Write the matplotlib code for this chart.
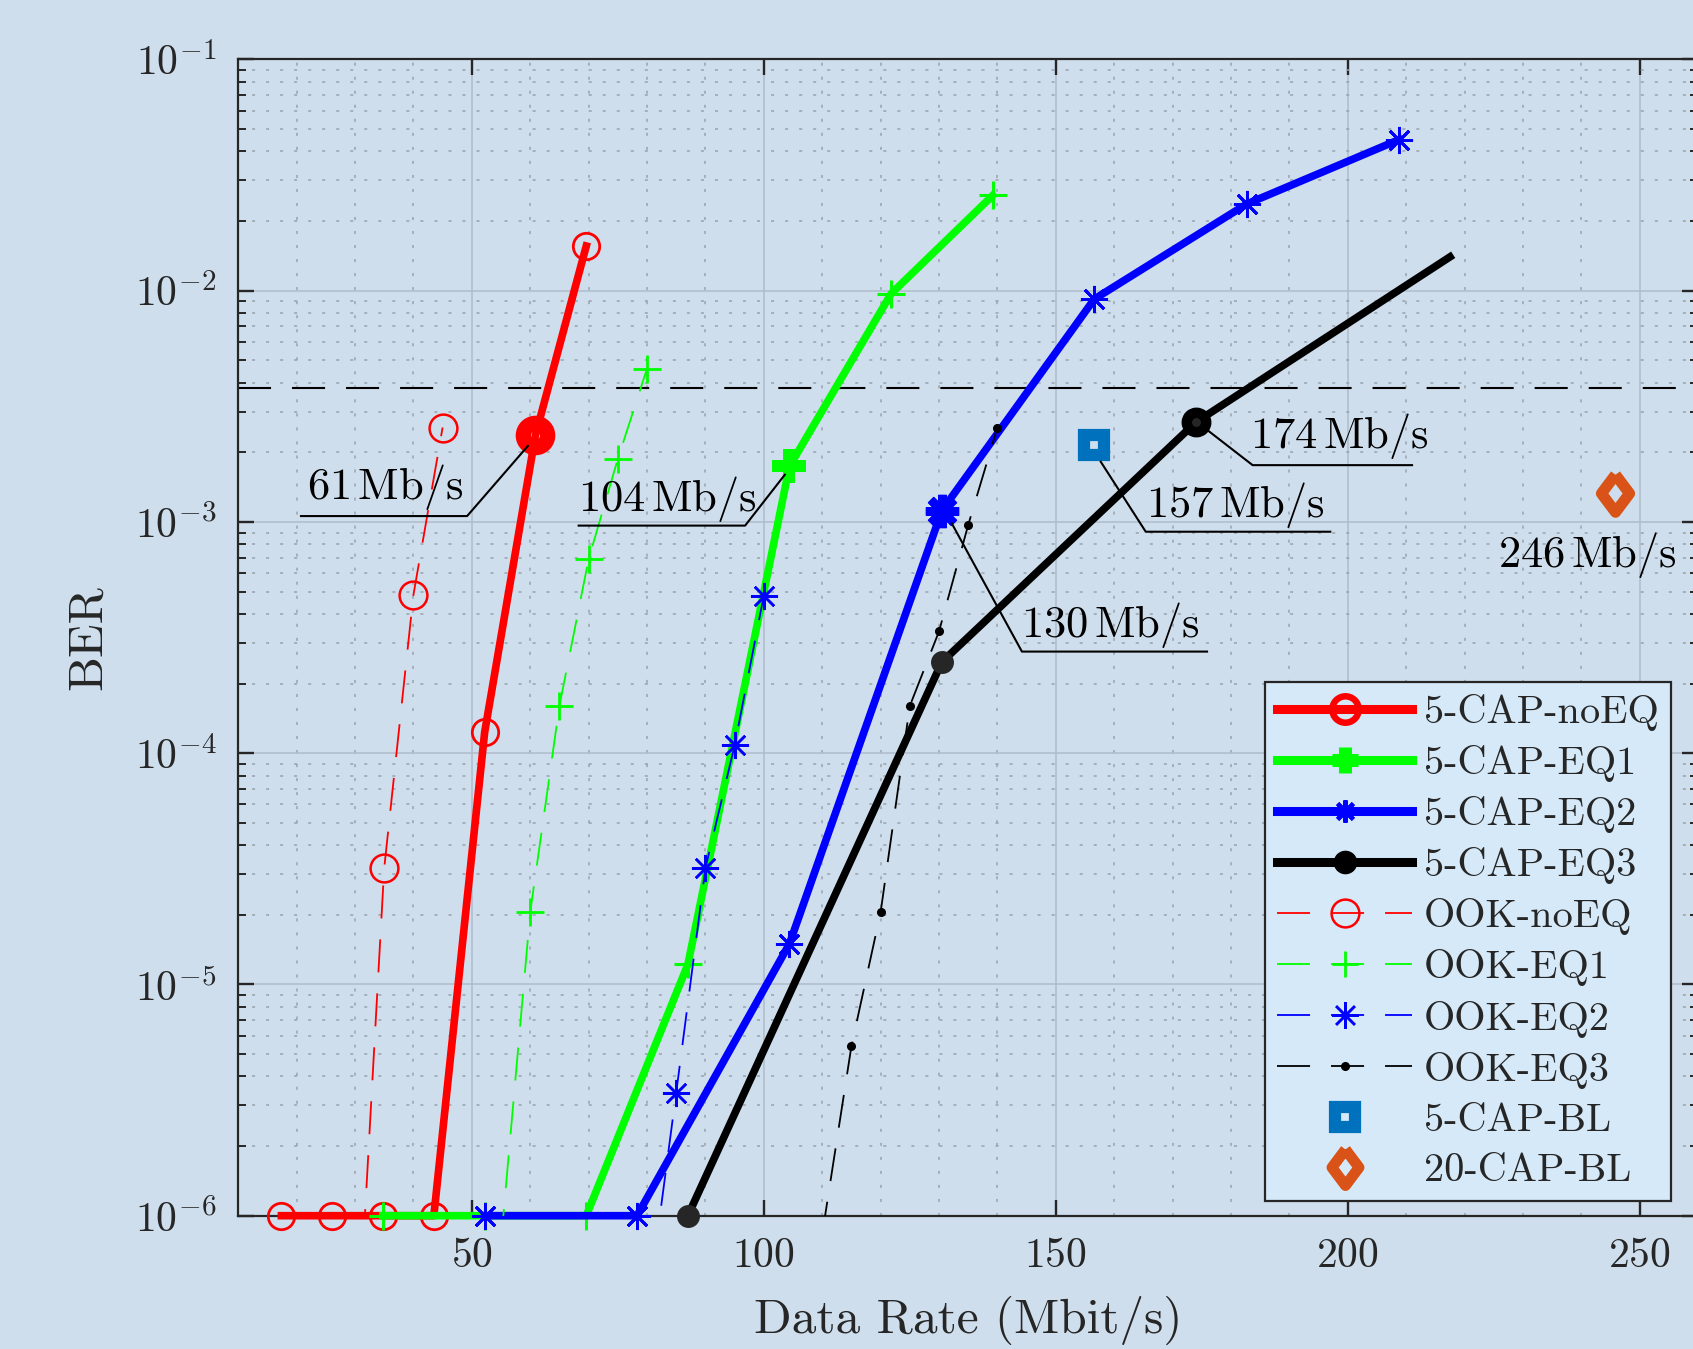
import math
import matplotlib
matplotlib.use('Agg')
import matplotlib.pyplot as plt
from matplotlib.ticker import FixedLocator, MultipleLocator, LogLocator, FuncFormatter, NullFormatter
from matplotlib.lines import Line2D

plt.rcParams['font.family'] = ['cmr10', 'DejaVu Serif']
plt.rcParams['mathtext.fontset'] = 'cm'
plt.rcParams['axes.formatter.use_mathtext'] = True
plt.rcParams['lines.scale_dashes'] = False

# ---------------- data ----------------
cap_noeq_x = [17.4, 26.1, 34.8, 43.5, 52.2, 60.9, 69.6]
cap_noeq_y = [1e-6, 1e-6, 1e-6, 1e-6, 1.23e-4, 2.37e-3, 1.56e-2]

cap_eq1_x = [34.8, 52.2, 69.6, 87.0, 104.4, 121.8, 139.2]
cap_eq1_y = [1e-6, 1e-6, 1e-6, 1.22e-5, 1.74e-3, 9.7e-3, 2.58e-2]

cap_eq2_x = [52.2, 78.3, 104.4, 130.5, 156.6, 182.7, 208.8]
cap_eq2_y = [1e-6, 1e-6, 1.5e-5, 1.12e-3, 9.2e-3, 2.37e-2, 4.5e-2]

cap_eq3_x = [87.0, 130.5, 174.0, 217.5]
cap_eq3_y = [1e-6, 2.48e-4, 2.7e-3, 1.4e-2]

ook_noeq_x = [30, 35, 40, 45]
ook_noeq_y = [1.7e-7, 3.18e-5, 4.83e-4, 2.56e-3]

ook_eq1_x = [55, 60, 65, 70, 75, 80]
ook_eq1_y = [7.7e-7, 2.05e-5, 1.6e-4, 6.9e-4, 1.87e-3, 4.6e-3]

ook_eq2_x = [80, 85, 90, 95, 100]
ook_eq2_y = [3.8e-7, 3.4e-6, 3.18e-5, 1.08e-4, 4.8e-4]

ook_eq3_x = [110, 115, 120, 125, 130, 135, 140]
ook_eq3_y = [8.3e-7, 5.4e-6, 2.05e-5, 1.6e-4, 3.36e-4, 9.7e-4, 2.56e-3]

bl5_x, bl5_y = [156.6], [2.15e-3]
bl20_x, bl20_y = [245.7], [1.34e-3]

fec_limit = 3.8e-3

legend_labels = ['5-CAP-noEQ', '5-CAP-EQ1', '5-CAP-EQ2', '5-CAP-EQ3',
                 'OOK-noEQ', 'OOK-EQ1', 'OOK-EQ2', 'OOK-EQ3',
                 '5-CAP-BL', '20-CAP-BL']
x_ticks = [50, 100, 150, 200, 250]
y_ticks = [1e-6, 1e-5, 1e-4, 1e-3, 1e-2, 1e-1]

# annotations: label, line start, corner, end of underline, text anchor (left, baseline)
annots = [
    ('61', (59.6, 2.13e-3), (49.2, 1.06e-3), (20.75, 1.06e-3), (21.7, 1.26e-3)),
    ('104', (103.6, 1.6e-3), (96.8, 9.64e-4), (68.3, 9.64e-4), (68.2, 1.11e-3)),
    ('130', (132.2, 9.84e-4), (144.2, 2.75e-4), (175.9, 2.75e-4), (144.0, 3.19e-4)),
    ('157', (157.7, 1.82e-3), (165.4, 9.07e-4), (197.0, 9.07e-4), (165.4, 1.05e-3)),
    ('174', (176.0, 2.49e-3), (183.7, 1.76e-3), (211.0, 1.76e-3), (183.2, 2.08e-3)),
]
label_246 = ('246', (241.1, 6.4e-4))

# ---------------- style ----------------
BG = '#cfdeed'
LEG_BG = '#d6e9f8'
DARK = '#262626'
BLUE_BL = '#0072BD'
ORANGE_BL = '#D95319'
DASH = (23.8, 15.1)
THICK = 5.5
THIN = 1.3
diamond = [(0, 1), (0.75, 0), (0, -1), (-0.75, 0), (0, 1)]
star8 = (8, 2, 0)

fig = plt.figure(figsize=(16.93, 13.49), dpi=100, facecolor=BG)
ax = fig.add_axes([238.2 / 1693, (1349 - 1215.7) / 1349, 1460 / 1693, 1156.3 / 1349])
ax.set_facecolor(BG)
ax.set_yscale('log')
ax.set_xlim(10, 260)
ax.set_ylim(1e-6, 1e-1)

ax.xaxis.set_major_locator(FixedLocator(x_ticks))
ax.xaxis.set_minor_locator(MultipleLocator(10))
ax.yaxis.set_major_locator(FixedLocator(y_ticks))
ax.yaxis.set_minor_locator(LogLocator(base=10, subs=range(2, 10)))
ax.yaxis.set_minor_formatter(NullFormatter())
ax.yaxis.set_major_formatter(FuncFormatter(lambda v, p: r'$10^{%d}$' % round(math.log10(v))))

ax.set_axisbelow(True)
ax.grid(which='major', color='#aebccb', lw=1.1, ls='-')
ax.grid(which='minor', color='#98a2ad', lw=1.1, ls=(0, (2.2, 7.9)))

ax.tick_params(which='both', direction='in', top=True, right=True, color=DARK,
               labelcolor=DARK, labelsize=30, pad=15.5)
ax.tick_params(which='major', length=11.5, width=1.7)
ax.tick_params(which='minor', length=5.8, width=1.4)
ax.tick_params(axis='x', which='minor', length=0)
for s in ax.spines.values():
    s.set_color(DARK)
    s.set_linewidth(1.6)

# FEC limit
ax.axhline(fec_limit, color='k', lw=1.5, dashes=DASH, zorder=2)

# 5-CAP curves (thick)
ax.plot(cap_noeq_x, cap_noeq_y, color='r', lw=THICK, marker='o', ms=19, mfc='none',
        mew=2, clip_on=False, zorder=3)
ax.plot(cap_eq1_x, cap_eq1_y, color='#00ff00', lw=THICK, marker='+', ms=20,
        mew=2.2, clip_on=False, zorder=3)
ax.plot(cap_eq2_x, cap_eq2_y, color='b', lw=THICK, marker=star8, ms=19.5,
        mew=2, clip_on=False, zorder=3)
ax.plot(cap_eq3_x, cap_eq3_y, color='k', lw=THICK, marker='o', ms=15.5,
        mfc=DARK, mec=DARK, markevery=[0, 1, 2], clip_on=False, zorder=3)

# OOK curves (thin dashed)
ax.plot(ook_noeq_x, ook_noeq_y, color='r', lw=THIN, dashes=DASH, marker='o', ms=20,
        mfc='none', mew=1.8, zorder=4)
ax.plot(ook_eq1_x, ook_eq1_y, color='#00ff00', lw=THIN, dashes=DASH, marker='+', ms=20,
        mew=2.0, zorder=4)
ax.plot(ook_eq2_x, ook_eq2_y, color='b', lw=THIN, dashes=DASH, marker=star8, ms=19.5,
        mew=1.8, zorder=4)
ax.plot(ook_eq3_x, ook_eq3_y, color='k', lw=THIN, dashes=DASH, marker='o', ms=5.5,
        zorder=4)

# baselines
ax.plot(bl5_x, bl5_y, ls='none', marker='s', ms=14.2, mfc='none', mec=BLUE_BL, mew=8.8,
        zorder=5)
ax.plot(bl20_x, bl20_y, ls='none', marker=diamond, ms=27, mfc='none', mec=ORANGE_BL,
        mew=8, zorder=5)

# highlighted operating points
ax.plot(cap_noeq_x[5], cap_noeq_y[5], marker='o', ms=17.5, mfc='none', mec='r', mew=11, zorder=6)
ax.plot(cap_eq1_x[4], cap_eq1_y[4], marker='+', ms=24, mec='#00ff00', mew=8.6, zorder=6)
ax.plot(cap_eq2_x[3], cap_eq2_y[3], marker=star8, ms=24, mec='b', mew=6, zorder=6)
ax.plot(cap_eq3_x[2], cap_eq3_y[2], marker='o', ms=14, mfc='none', mec='k', mew=7.5, zorder=6)

# annotations
for lab, p0, p1, p2, pt in annots:
    ax.plot([p0[0], p1[0], p2[0]], [p0[1], p1[1], p2[1]], color='k', lw=1.5, zorder=7)
    ax.text(pt[0], pt[1], r'$%s\,\mathrm{Mb/s}$' % lab, fontsize=32, ha='left',
            va='baseline', color='k', zorder=7)
ax.text(label_246[1][0], label_246[1][1], r'$%s\,\mathrm{Mb/s}$' % label_246[0], fontsize=32,
        ha='center', va='baseline', color='k', zorder=7)

# labels
ax.set_xlabel('Data Rate (Mbit/s)', fontsize=35.5, color=DARK)
ax.set_ylabel('BER', fontsize=35.5, color=DARK)
ax.xaxis.set_label_coords(0.5, -0.069)
ax.yaxis.set_label_coords(-0.087, 0.5)

# legend (proxies)
handles = [
    Line2D([], [], color='r', lw=6.5, marker='o', ms=19, mfc='none', mew=4.7),
    Line2D([], [], color='#00ff00', lw=6.5, marker='+', ms=19.4, mew=9.4),
    Line2D([], [], color='b', lw=6.5, marker=star8, ms=16, mew=3),
    Line2D([], [], color='k', lw=6.5, marker='o', ms=16),
    Line2D([], [], color='r', lw=THIN, dashes=DASH, marker='o', ms=20, mfc='none', mew=1.8),
    Line2D([], [], color='#00ff00', lw=THIN, dashes=DASH, marker='+', ms=19, mew=2.0),
    Line2D([], [], color='b', lw=THIN, dashes=DASH, marker=star8, ms=19, mew=1.8),
    Line2D([], [], color='k', lw=THIN, dashes=DASH, marker='o', ms=5.5),
    Line2D([], [], ls='none', marker='s', ms=14.2, mfc='none', mec=BLUE_BL, mew=8.8),
    Line2D([], [], ls='none', marker=diamond, ms=26, mfc='none', mec=ORANGE_BL, mew=7.8),
]
leg = ax.legend(handles, legend_labels, loc='upper left', bbox_to_anchor=(0.7033, 0.4616),
                borderaxespad=0, fontsize=29, handlelength=3.35, handletextpad=0.3,
                borderpad=0.3, labelspacing=0.35, numpoints=1, fancybox=False,
                framealpha=1, facecolor=LEG_BG, edgecolor=DARK)
leg.get_frame().set_linewidth(1.6)
leg.set_zorder(10)
for t in leg.get_texts():
    t.set_color(DARK)

fig.savefig('out.png', dpi=100, facecolor=BG)
